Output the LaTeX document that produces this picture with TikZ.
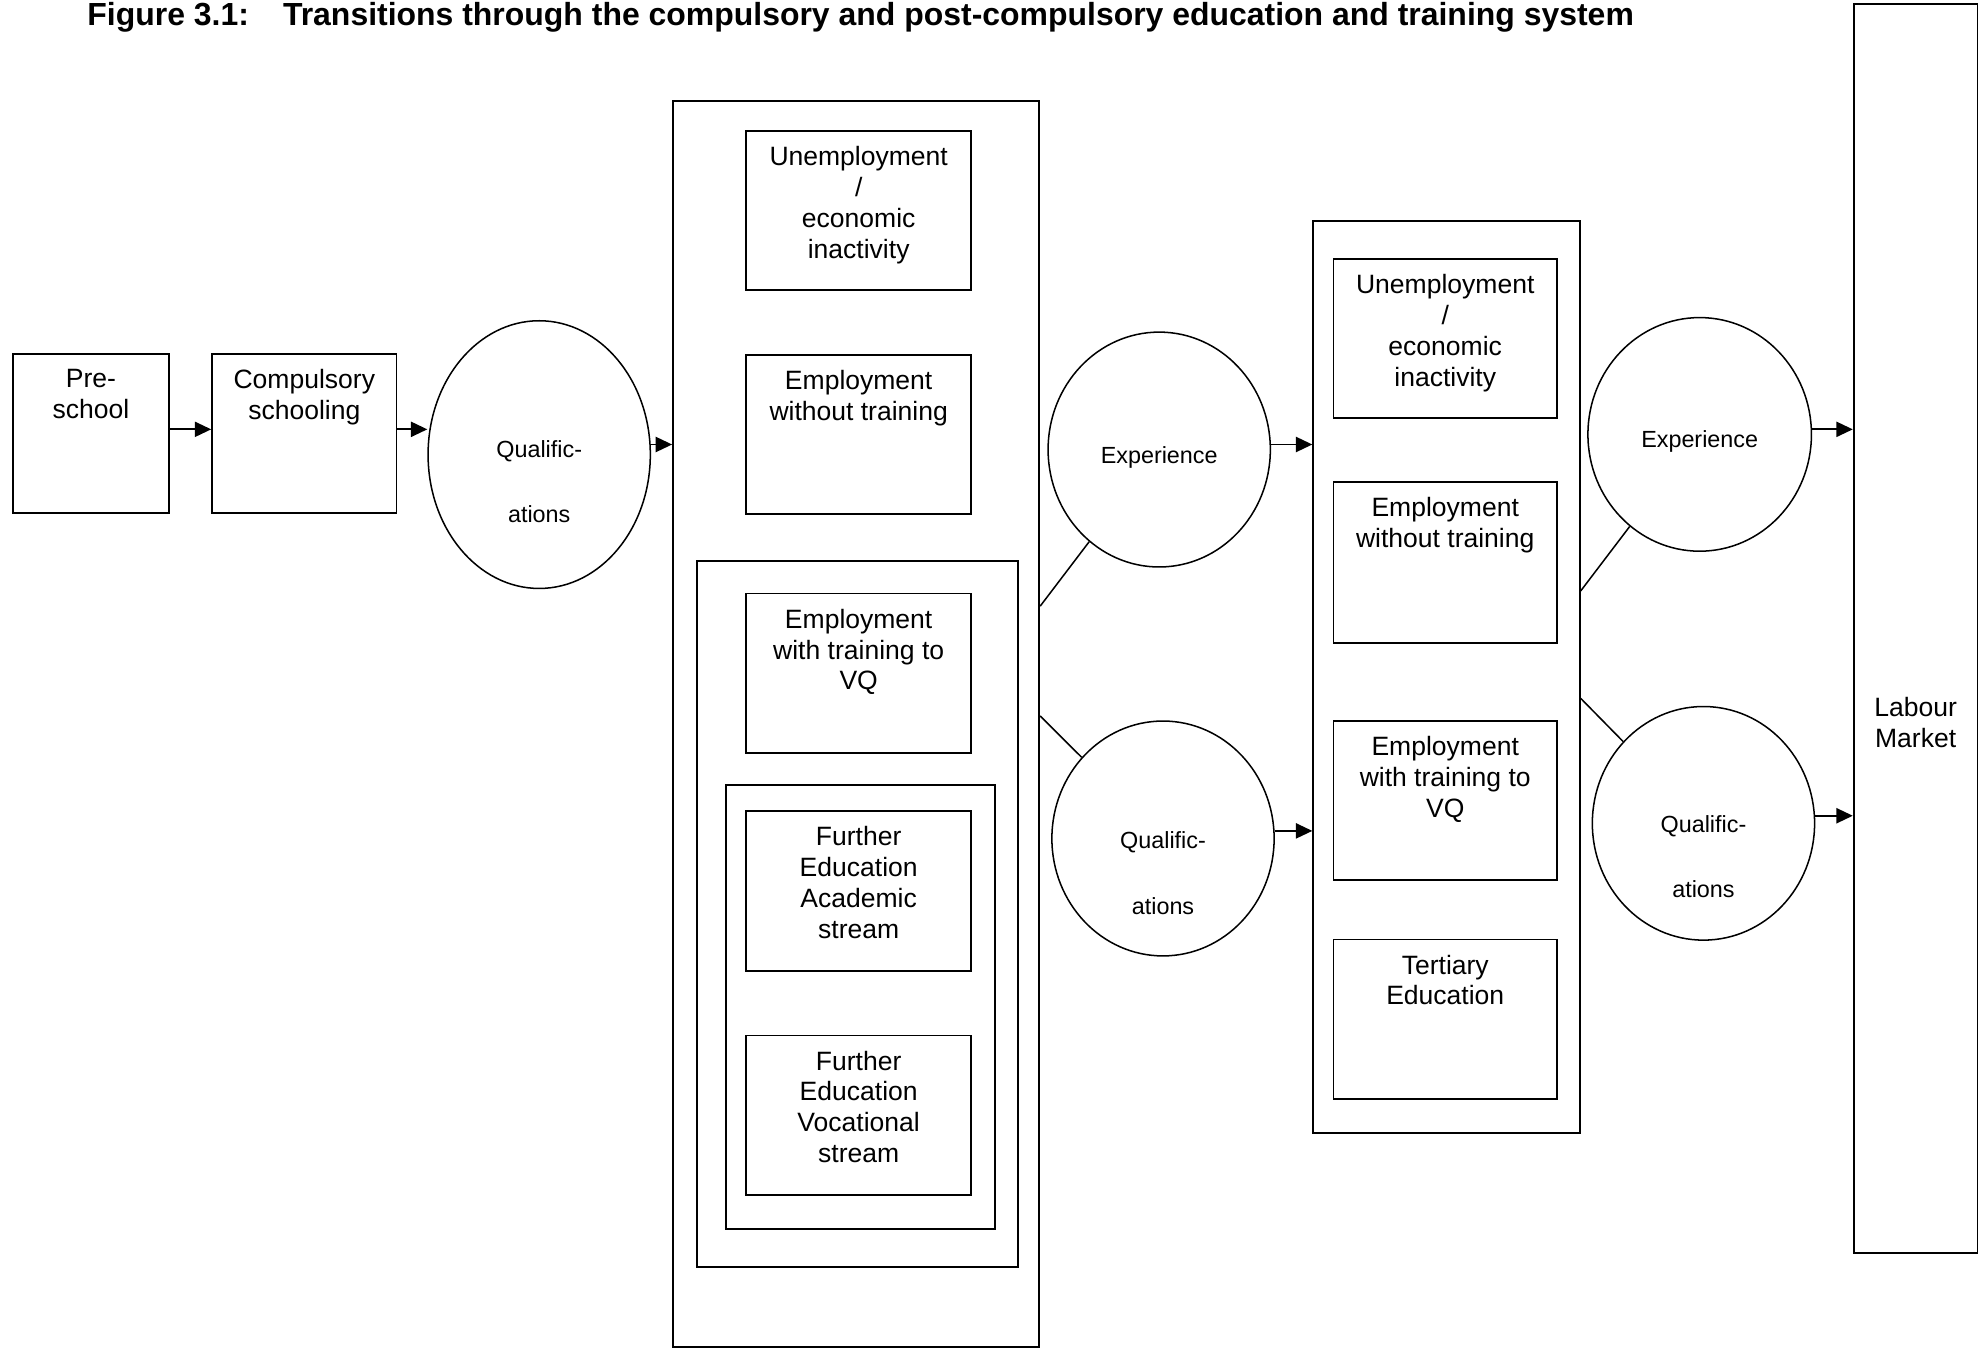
\documentclass[tikz,border=0pt]{standalone}
\usepackage{fontspec}
\setmainfont{Liberation Sans}
\usetikzlibrary{arrows.meta,shapes.geometric}
\newcommand{\boxfont}{\fontsize{21}{24.5}\selectfont}
\newcommand{\qfont}{\fontsize{18.5}{52}\selectfont}
\tikzset{
  box/.style={draw, line width=1.5pt, rectangle, inner sep=0pt},
  lab/.style={anchor=north, inner sep=0pt, yshift=-12.7pt, align=center, font=\boxfont},
  ell/.style={draw, ellipse, line width=1.2pt, inner sep=0pt},
  etext/.style={anchor=north, inner sep=0pt, align=center, font=\qfont},
  arr/.style={-{Triangle[length=13pt,width=12pt]}, line width=1.4pt},
  link/.style={line width=1.2pt},
}
\begin{document}
\begin{tikzpicture}[x=1pt,y=-1pt]
\useasboundingbox (0,0) rectangle (1568,1068);

% title
\node[anchor=base west, inner sep=0pt, font=\bfseries\fontsize{25.3}{29}\selectfont] (title) at (69,20)
  {Figure 3.1:\hspace{27pt}Transitions through the compulsory and post-compulsory education and training system};

% left part
\node[box, minimum width=124pt, minimum height=126pt, label={[lab]north:{Pre-\\school}}] (pre) at (72,343) {};
\node[box, minimum width=146pt, minimum height=126pt, label={[lab]north:{Compulsory\\schooling}}] (comp) at (241,343) {};
\node[ell, minimum width=176pt, minimum height=212pt] (q1) at (427,360) {};
\node[etext] (q1t) at (427,348.5) {Qualific-\\ations};

% first big column
\node[box, minimum width=290pt, minimum height=987pt] (big1) at (678,573.5) {};
\node[box, minimum width=178pt, minimum height=126pt, label={[lab]north:{Unemployment\\/\\economic\\inactivity}}] (u1) at (680,167) {};
\node[box, minimum width=178pt, minimum height=126pt, label={[lab]north:{Employment\\without training}}] (ew1) at (680,344) {};
\node[box, minimum width=254pt, minimum height=559pt] (boxA) at (679,723.5) {};
\node[box, minimum width=178pt, minimum height=126pt, label={[lab]north:{Employment\\with training to\\VQ}}] (vq1) at (680,533) {};
\node[box, minimum width=213pt, minimum height=351pt] (boxB) at (681.5,797.5) {};
\node[box, minimum width=178pt, minimum height=127pt, label={[lab]north:{Further\\Education\\Academic\\stream}}] (fa) at (680,705.5) {};
\node[box, minimum width=178pt, minimum height=126pt, label={[lab]north:{Further\\Education\\Vocational\\stream}}] (fv) at (680,883) {};

% middle ellipses
\node[ell, minimum width=176pt, minimum height=186pt] (exp1) at (918,356) {};
\node[etext] (exp1t) at (918,353.4) {Experience};
\node[ell, minimum width=176pt, minimum height=186pt] (q2) at (921,664) {};
\node[etext] (q2t) at (921,658.4) {Qualific-\\ations};

% second column
\node[box, minimum width=211pt, minimum height=722pt] (box2) at (1145.5,536) {};
\node[box, minimum width=177pt, minimum height=126pt, label={[lab]north:{Unemployment\\/\\economic\\inactivity}}] (u2) at (1144.5,268) {};
\node[box, minimum width=177pt, minimum height=127pt, label={[lab]north:{Employment\\without training}}] (ew2) at (1144.5,445.5) {};
\node[box, minimum width=177pt, minimum height=126pt, label={[lab]north:{Employment\\with training to\\VQ}}] (vq2) at (1144.5,634) {};
\node[box, minimum width=177pt, minimum height=126pt, label={[lab]north:{Tertiary\\Education}}] (tert) at (1144.5,807) {};

% right ellipses
\node[ell, minimum width=177pt, minimum height=185pt] (exp2) at (1346,344) {};
\node[etext] (exp2t) at (1346,340.4) {Experience};
\node[ell, minimum width=176pt, minimum height=185pt] (q3) at (1349,652) {};
\node[etext] (q3t) at (1349,645.4) {Qualific-\\ations};

% labour market
\node[box, minimum width=98pt, minimum height=989pt] (labour) at (1517,497.5) {};
\node[anchor=north, inner sep=0pt, align=center, font=\boxfont] (lmt) at (1517,552.3) {Labour\\Market};

% arrows
\draw[arr] ([yshift=3pt]pre.east) -- ([yshift=3pt]comp.west);
\draw[arr] ([yshift=3pt]comp.east) -- ([yshift=3pt]comp.east -| q1.west);
\draw[arr] ([yshift=8pt]q1.east) -- ([yshift=8pt]q1.east -| big1.west);
\draw[arr] ([yshift=4pt]exp1.east) -- ([yshift=4pt]exp1.east -| box2.west);
\draw[arr] ([yshift=6pt]q2.east) -- ([yshift=6pt]q2.east -| box2.west);
\draw[arr] ([yshift=4pt]exp2.east) -- ([yshift=4pt]exp2.east -| labour.west);
\draw[arr] ([yshift=6pt]q3.east) -- ([yshift=6pt]q3.east -| labour.west);

% plain links
\draw[link] ([yshift=93.5pt]big1.east) -- (exp1);
\draw[link] ([yshift=6.5pt]big1.east) -- (q2);
\draw[link] ([yshift=68pt]box2.east) -- (exp2);
\draw[link] ([yshift=-17pt]box2.east) -- (q3);
\end{tikzpicture}
\end{document}
